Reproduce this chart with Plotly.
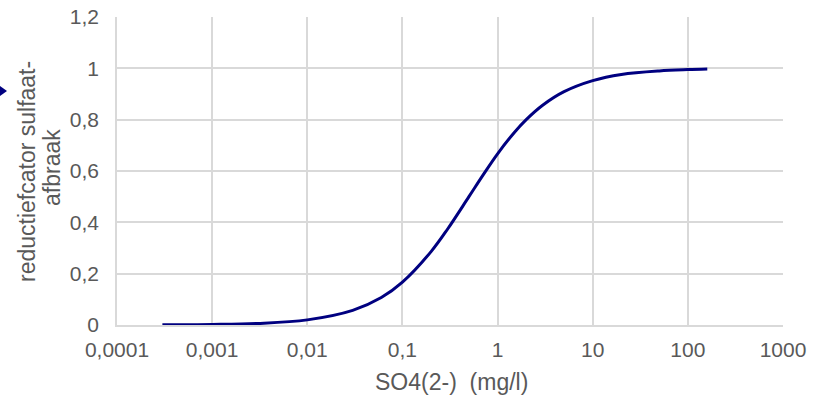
import plotly.graph_objects as go

# Data
so4_mg_l = [0.0003, 0.001, 0.003, 0.01, 0.03, 0.06, 0.1, 0.2, 0.3, 0.5, 0.7, 1, 1.5, 2, 3, 5, 10, 20, 50, 100, 160]
reductiefactor = [0.0006, 0.002, 0.006, 0.02, 0.057, 0.107, 0.167, 0.286, 0.375, 0.5, 0.583, 0.667, 0.75, 0.8, 0.857, 0.909, 0.952, 0.976, 0.99, 0.995, 0.997]

x_tickvals = [0.0001, 0.001, 0.01, 0.1, 1, 10, 100, 1000]
x_ticktext = ["0,0001", "0,001", "0,01", "0,1", "1", "10", "100", "1000"]
y_tickvals = [0, 0.2, 0.4, 0.6, 0.8, 1.0, 1.2]
y_ticktext = ["0", "0,2", "0,4", "0,6", "0,8", "1", "1,2"]

FONT = "Liberation Sans, Arial, sans-serif"
GREY = "#595959"
GRID = "#d9d9d9"
TICK_SIZE = 21
TITLE_SIZE = 23

fig = go.Figure()
fig.add_trace(go.Scatter(
    x=so4_mg_l, y=reductiefactor, mode="lines",
    line=dict(color="#000080", width=3, shape="spline"),
    showlegend=False, hoverinfo="skip",
))

L, R, T, B = 117, 35, 17, 73
W, H = 818, 398
pw, ph = W - L - R, H - T - B


def px(xp):
    return (xp - L) / pw


def py(yp):
    return (T + ph - yp) / ph


fig.update_layout(
    width=W, height=H,
    margin=dict(l=L, r=R, t=T, b=B, pad=0, autoexpand=False),
    paper_bgcolor="white", plot_bgcolor="white",
    font=dict(family=FONT, size=TICK_SIZE, color=GREY),
    xaxis=dict(
        type="log", range=[-4, 3], automargin=False,
        tickvals=x_tickvals, ticktext=x_ticktext,
        showgrid=True, gridcolor=GRID, gridwidth=1.5,
        showline=True, linecolor=GRID, linewidth=1.5,
        zeroline=False, ticks="outside", ticklen=5, tickcolor="rgba(0,0,0,0)",
        tickfont=dict(size=TICK_SIZE, color=GREY, family=FONT),
    ),
    yaxis=dict(
        range=[0, 1.2], automargin=False,
        tickvals=y_tickvals, ticktext=y_ticktext,
        showgrid=True, gridcolor=GRID, gridwidth=1.5,
        showline=True, linecolor=GRID, linewidth=1.5,
        zeroline=False, ticks="outside", ticklen=12, tickcolor="rgba(0,0,0,0)",
        tickfont=dict(size=TICK_SIZE, color=GREY, family=FONT),
    ),
    annotations=[
        dict(text="SO4(2-)  (mg/l)", xref="paper", yref="paper",
             x=px(451), y=py(382),
             xanchor="center", yanchor="middle", showarrow=False,
             font=dict(size=TITLE_SIZE, color=GREY, family=FONT)),
        dict(text="reductiefcator sulfaat-", xref="paper", yref="paper",
             x=px(27), y=py(172),
             xanchor="center", yanchor="middle", showarrow=False, textangle=-90,
             font=dict(size=TITLE_SIZE, color=GREY, family=FONT)),
        dict(text="afbraak", xref="paper", yref="paper",
             x=px(52), y=py(168),
             xanchor="center", yanchor="middle", showarrow=False, textangle=-90,
             font=dict(size=TITLE_SIZE, color=GREY, family=FONT)),
    ],
    shapes=[
        dict(type="path", xref="paper", yref="paper",
             path=f"M {px(0)},{py(86)} L {px(7)},{py(91)} L {px(0)},{py(96)} Z",
             fillcolor="#000080", line=dict(width=0)),
    ],
)

fig.write_html("out.html")
